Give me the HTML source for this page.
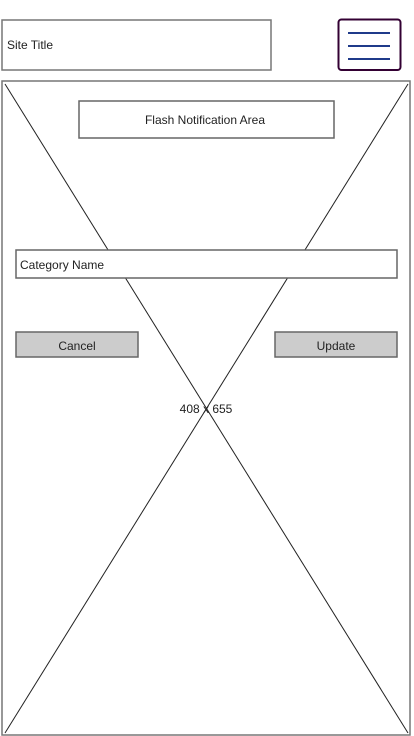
<!DOCTYPE html>
<html><head><meta charset="utf-8"><style>
html,body{margin:0;padding:0;background:#fff;}
svg{display:block;}
text{font-family:"Liberation Sans",sans-serif;font-size:12px;fill:#222;}
</style></head><body>
<svg width="414" height="736" viewBox="0 0 414 736" xmlns="http://www.w3.org/2000/svg">
<rect x="2" y="20" width="269" height="50" fill="#fff" stroke="#777" stroke-width="1.5"/>
<text x="7" y="49">Site Title</text>
<rect x="338.5" y="19.5" width="62" height="50.5" rx="3" fill="#fff" stroke="#330033" stroke-width="2"/>
<g stroke="#1f3a8a" stroke-width="2">
<line x1="348" y1="33" x2="390" y2="33"/><line x1="348" y1="46" x2="390" y2="46"/><line x1="348" y1="59" x2="390" y2="59"/>
</g>
<rect x="2" y="81" width="408" height="654" fill="#fff" stroke="#777" stroke-width="1.5"/>
<line x1="5" y1="84" x2="408" y2="733" stroke="#222" stroke-width="1"/>
<line x1="408" y1="84" x2="5" y2="733" stroke="#222" stroke-width="1"/>
<rect x="79" y="101" width="255" height="37" fill="#fff" stroke="#666" stroke-width="1.5"/>
<text x="205" y="124" text-anchor="middle">Flash Notification Area</text>
<rect x="16" y="250" width="381" height="28" fill="#fff" stroke="#666" stroke-width="1.5"/>
<text x="20" y="269">Category Name</text>
<rect x="16" y="332" width="122" height="25" fill="#ccc" stroke="#666" stroke-width="1.5"/>
<text x="77" y="350" text-anchor="middle">Cancel</text>
<rect x="275" y="332" width="122" height="25" fill="#ccc" stroke="#666" stroke-width="1.5"/>
<text x="336" y="350" text-anchor="middle">Update</text>
<rect x="176" y="401" width="60" height="14" fill="#fff" opacity="0"/>
<text x="206" y="413" text-anchor="middle">408 x 655</text>
</svg>
</body></html>
